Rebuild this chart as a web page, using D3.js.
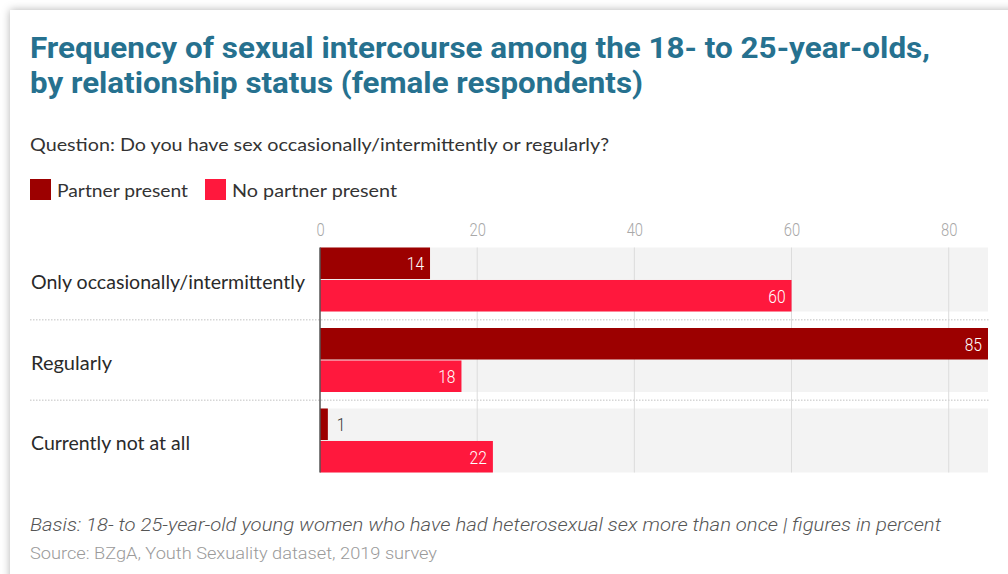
<!DOCTYPE html>
<html>
<head>
<meta charset="utf-8">
<script src="https://cdn.jsdelivr.net/npm/d3@7"></script>
<style>
  html, body { margin: 0; padding: 0; background: #ffffff; }
  svg { display: block; }
</style>
</head>
<body>
<svg id="chart" width="1008" height="574"></svg>
<script>
// ---- data ----
const categories = ["Only occasionally/intermittently", "Regularly", "Currently not at all"];
const seriesNames = ["Partner present", "No partner present"];
const partnerPresent = [14, 85, 1];
const noPartnerPresent = [60, 18, 22];
const tickValues = [0, 20, 40, 60, 80];

const titleLines = [
  "Frequency of sexual intercourse among the 18- to 25-year-olds,",
  "by relationship status (female respondents)"
];
const questionText = "Question: Do you have sex occasionally/intermittently or regularly?";
const basisText = "Basis: 18- to 25-year-old young women who have had heterosexual sex more than once | figures in percent";
const sourceText = "Source: BZgA, Youth Sexuality dataset, 2019 survey";

const colors = { "Partner present": "#9c0000", "No partner present": "#ff183d" };

const svg = d3.select("#chart");

// page background with card shadow
svg.append("rect").attr("width", 1008).attr("height", 574).attr("fill", "#ffffff");
const defs = svg.append("defs");
const f = defs.append("filter").attr("id", "shadow").attr("x", "-5%").attr("y", "-5%").attr("width", "110%").attr("height", "110%");
f.append("feDropShadow").attr("dx", 0).attr("dy", 0).attr("stdDeviation", 4.5)
  .attr("flood-color", "#000").attr("flood-opacity", 0.3);
svg.append("rect").attr("x", 10).attr("y", 10).attr("width", 1030).attr("height", 600)
  .attr("fill", "#ffffff").attr("filter", "url(#shadow)");

const regular = "Lato, 'Open Sans', 'Noto Sans', sans-serif";
const narrow = "Roboto, 'Noto Sans', sans-serif";

// squeeze a text element horizontally to a given width
function fitWidth(sel, w) {
  sel.attr("textLength", w).attr("lengthAdjust", "spacingAndGlyphs");
}
function condense(sel, k) {
  sel.each(function () {
    const w = this.getComputedTextLength();
    d3.select(this).attr("textLength", w * k).attr("lengthAdjust", "spacingAndGlyphs");
  });
}

// ---- title ----
const titleWidths = [900, 613];
titleLines.forEach((t, i) => {
  svg.append("text")
    .attr("x", 30).attr("y", 58 + i * 35)
    .attr("font-family", narrow).attr("font-weight", 700)
    .attr("font-size", 30).attr("fill", "#26718f")
    .text(t)
    .call(fitWidth, titleWidths[i]);
});

// ---- question ----
svg.append("text")
  .attr("x", 30).attr("y", 151)
  .attr("font-family", regular).attr("font-size", 17).attr("fill", "#333")
  .text(questionText)
  .call(fitWidth, 579);

// ---- legend ----
const legendX = [30, 205];
const legendW = [131, 165];
seriesNames.forEach((s, i) => {
  svg.append("rect").attr("x", legendX[i]).attr("y", 179).attr("width", 21).attr("height", 21)
    .attr("fill", colors[s]);
  svg.append("text").attr("x", legendX[i] + 27).attr("y", 197)
    .attr("font-family", regular).attr("font-size", 17).attr("fill", "#333")
    .text(s)
    .call(fitWidth, legendW[i]);
});

// ---- scales ----
const x = d3.scaleLinear().domain([0, 85]).range([320, 988]);
const y = d3.scaleBand().domain(categories).range([247.5, 472.5]).paddingInner(0.205).paddingOuter(0);
const ySub = d3.scaleBand().domain(seriesNames).range([0, y.bandwidth()]).paddingInner(0.03);

const rows = categories.map((c, i) => ({
  category: c,
  values: [
    { series: seriesNames[0], value: partnerPresent[i] },
    { series: seriesNames[1], value: noPartnerPresent[i] }
  ]
}));

// row backgrounds
svg.append("g").selectAll("rect").data(categories).join("rect")
  .attr("x", x(0)).attr("y", d => y(d))
  .attr("width", x(85) - x(0)).attr("height", y.bandwidth())
  .attr("fill", "#f3f3f3");

// gridlines
svg.append("g").selectAll("line").data(tickValues.filter(d => d > 0)).join("line")
  .attr("x1", d => x(d)).attr("x2", d => x(d))
  .attr("y1", y.range()[0]).attr("y2", y.range()[1])
  .attr("stroke", "#dcdcdc").attr("stroke-width", 1);

// dotted row separators
const seps = categories.slice(1).map(c => y(c) - (y.step() - y.bandwidth()) / 2);
svg.append("g").selectAll("line").data(seps).join("line")
  .attr("x1", 30).attr("x2", 990)
  .attr("y1", d => d).attr("y2", d => d)
  .attr("stroke", "#d6d6d6").attr("stroke-width", 1.5).attr("stroke-dasharray", "1.5,1.5");

// top axis tick labels
const axis = d3.axisTop(x).tickValues(tickValues).tickSize(0).tickPadding(0);
const axisG = svg.append("g").attr("transform", "translate(0,236)").call(axis);
axisG.select(".domain").remove();
axisG.selectAll("text")
  .attr("font-family", narrow).attr("font-weight", 300).attr("font-size", 18)
  .attr("fill", "#a8a8a8")
  .call(condense, 0.82);

// bars
const rowG = svg.append("g").selectAll("g").data(rows).join("g")
  .attr("transform", d => `translate(0,${y(d.category)})`);

rowG.selectAll("rect.bar").data(d => d.values).join("rect")
  .attr("class", "bar")
  .attr("x", x(0)).attr("y", d => ySub(d.series))
  .attr("width", d => x(d.value) - x(0)).attr("height", ySub.bandwidth())
  .attr("fill", d => colors[d.series]);

// value labels
rowG.selectAll("text.val").data(d => d.values).join("text")
  .attr("class", "val")
  .attr("x", d => (x(d.value) - x(0) > 30) ? x(d.value) - 6 : x(d.value) + 9)
  .attr("y", d => ySub(d.series) + ySub.bandwidth() / 2 + 7)
  .attr("text-anchor", d => (x(d.value) - x(0) > 30) ? "end" : "start")
  .attr("font-family", narrow).attr("font-weight", 300).attr("font-size", 19)
  .attr("fill", d => (x(d.value) - x(0) > 30) ? "#ffffff" : "#333333")
  .text(d => d.value)
  .call(condense, 0.82);

// axis line at zero
svg.append("line")
  .attr("x1", x(0)).attr("x2", x(0))
  .attr("y1", y.range()[0]).attr("y2", y.range()[1])
  .attr("stroke", "#555").attr("stroke-width", 1.5);

// category labels
const catW = [274, 81, 159];
svg.append("g").selectAll("text").data(categories).join("text")
  .attr("x", 31)
  .attr("y", d => y(d) + y.bandwidth() / 2 + 9.5)
  .attr("font-family", regular).attr("font-size", 18.5).attr("fill", "#2a2a2a")
  .text(d => d)
  .each(function (d, i) { d3.select(this).call(fitWidth, catW[i]); });

// footer
svg.append("text")
  .attr("x", 30).attr("y", 531)
  .attr("font-family", narrow).attr("font-style", "italic").attr("font-weight", 300)
  .attr("font-size", 18.5).attr("fill", "#555")
  .text(basisText)
  .call(fitWidth, 911);

svg.append("text")
  .attr("x", 30).attr("y", 559)
  .attr("font-family", narrow).attr("font-weight", 300)
  .attr("font-size", 16).attr("fill", "#9a9a9a")
  .text(sourceText)
  .call(fitWidth, 407);
</script>
</body>
</html>
